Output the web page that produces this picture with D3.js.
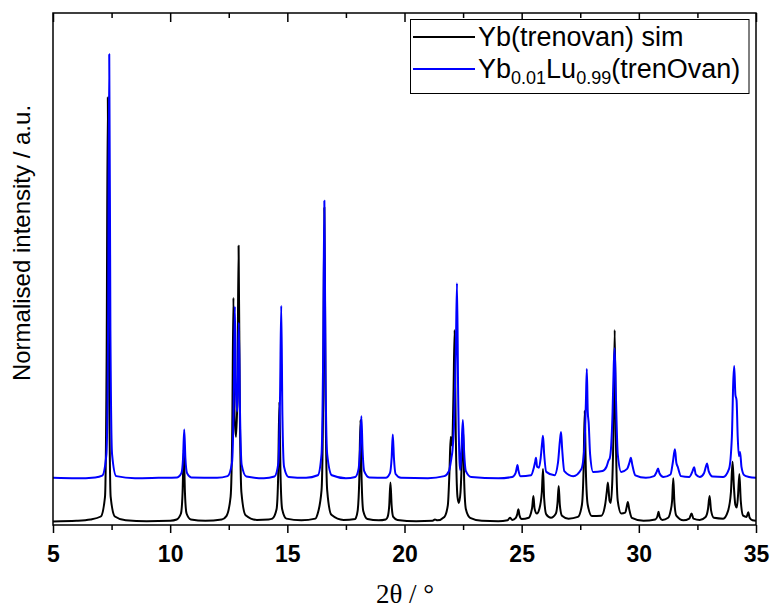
<!DOCTYPE html>
<html><head><meta charset="utf-8">
<script src="https://cdn.jsdelivr.net/npm/d3@7"></script>
<style>body{margin:0;background:#fff}svg{display:block}</style>
</head><body>
<svg id="chart" width="771" height="609"></svg>
<script>
// ---------- data ----------
const seriesNames = ["Yb(trenovan) sim", "Yb0.01Lu0.99(trenOvan)"];
const xTicksMajor = [5, 10, 15, 20, 25, 30, 35];
const xTicksMinor = [7.5, 12.5, 17.5, 22.5, 27.5, 32.5];

const simX = [5.0,6.0,6.6,7.04,7.22,7.29,7.34,7.39,7.46,7.64,8.1,9.0,10.0,
 10.28,10.46,10.53,10.58,10.63,10.70,10.88,11.5,12.2,
 12.40,12.58,12.65,12.70,12.75,12.81,12.87,12.92,12.97,13.04,13.22,13.7,14.2,
 14.36,14.54,14.61,14.66,14.71,14.78,14.96,15.6,16.2,
 16.28,16.46,16.53,16.58,16.63,16.70,16.88,17.4,17.9,
 17.92,18.0,18.07,18.12,18.17,18.24,18.42,18.9,19.2,
 19.28,19.35,19.40,19.45,19.52,19.7,20.5,21.2,21.3,21.4,21.7,21.85,21.92,21.97,22.03,22.09,22.14,22.19,22.26,22.32,22.39,22.45,22.50,22.55,22.62,22.8,23.3,24.0,
 24.4,24.5,24.6,24.75,24.81,24.86,24.91,25.0,25.3,25.40,25.45,25.50,25.55,25.65,25.75,25.86,25.91,25.96,26.05,26.25,
 26.46,26.53,26.58,26.63,26.72,27.0,27.4,27.57,27.64,27.69,27.74,27.82,28.0,28.4,
 28.56,28.63,28.68,28.75,28.80,28.87,28.92,28.97,29.02,29.1,29.25,29.42,29.48,29.53,29.59,29.7,30.2,
 30.7,30.79,30.84,30.89,31.0,31.25,31.35,31.42,31.47,31.52,31.6,31.9,32.15,32.25,32.33,32.6,
 32.85,32.95,33.02,33.08,33.2,33.6,33.8,33.93,34.0,34.06,34.12,34.18,34.23,34.29,34.35,34.45,34.6,34.67,34.73,34.85,35.0];
const simY = [0.0015,0.003,0.006,0.013,0.06,0.4,1.0,0.4,0.06,0.013,0.004,0.002,0.003,
 0.006,0.02,0.07,0.17,0.07,0.02,0.006,0.003,0.006,
 0.014,0.06,0.22,0.528,0.25,0.20,0.30,0.65,0.28,0.07,0.016,0.005,0.006,
 0.008,0.03,0.11,0.283,0.11,0.03,0.008,0.004,0.008,
 0.017,0.075,0.30,0.74,0.30,0.075,0.017,0.005,0.007,
 0.009,0.026,0.10,0.24,0.10,0.026,0.007,0.004,0.006,
 0.012,0.04,0.093,0.04,0.012,0.005,0.002,0.003,0.006,0.004,0.012,0.04,0.12,0.20,0.18,0.30,0.452,0.20,0.06,0.045,0.07,0.15,0.221,0.09,0.03,0.01,0.003,0.002,
 0.004,0.01,0.005,0.01,0.018,0.03,0.015,0.007,0.01,0.022,0.035,0.061,0.032,0.02,0.03,0.07,0.125,0.055,0.018,0.01,
 0.02,0.045,0.085,0.04,0.015,0.008,0.012,0.04,0.12,0.262,0.12,0.04,0.014,0.015,
 0.04,0.07,0.093,0.05,0.045,0.10,0.22,0.452,0.20,0.05,0.02,0.022,0.035,0.047,0.03,0.01,0.003,
 0.006,0.013,0.024,0.012,0.005,0.01,0.025,0.05,0.103,0.045,0.015,0.004,0.008,0.02,0.008,0.005,
 0.012,0.03,0.061,0.028,0.01,0.008,0.025,0.07,0.142,0.08,0.04,0.034,0.06,0.113,0.05,0.015,0.012,0.023,0.01,0.004,0.003];

const expX = [5.0,6.0,6.8,7.1,7.28,7.35,7.40,7.45,7.52,7.70,8.5,9.5,
 10.3,10.48,10.55,10.60,10.65,10.72,10.9,12.0,
 12.45,12.64,12.71,12.76,12.81,12.86,12.89,12.93,12.98,13.05,13.25,14.0,
 14.45,14.62,14.69,14.74,14.79,14.86,15.05,15.8,
 16.3,16.46,16.53,16.58,16.63,16.70,16.9,17.5,
 17.9,18.04,18.11,18.16,18.21,18.28,18.5,19.2,
 19.38,19.45,19.50,19.55,19.62,19.85,21.0,
 21.7,21.9,22.0,22.05,22.12,22.19,22.24,22.29,22.35,22.38,22.43,22.49,22.54,22.62,22.85,24.0,
 24.6,24.74,24.78,24.82,24.86,24.95,25.4,25.52,25.57,25.61,25.66,25.74,25.81,25.87,25.91,25.96,26.05,
 26.4,26.55,26.63,26.68,26.73,26.82,27.2,27.55,27.68,27.74,27.78,27.82,27.86,27.92,28.05,
 28.45,28.62,28.71,28.76,28.82,28.88,28.93,28.97,29.02,29.1,29.25,29.5,29.6,29.66,29.72,29.85,30.3,
 30.65,30.76,30.82,30.88,31.05,31.35,31.45,31.54,31.60,31.66,31.8,32.15,32.28,32.36,32.43,32.6,
 32.78,32.86,32.91,32.98,33.15,33.6,33.85,33.97,34.03,34.07,34.12,34.17,34.22,34.27,34.32,34.38,34.5,34.7,35.0];
const expY = [0.104,0.103,0.105,0.109,0.16,0.45,1.101,0.45,0.16,0.108,0.103,0.104,
 0.105,0.115,0.15,0.218,0.15,0.115,0.105,0.104,
 0.108,0.14,0.28,0.507,0.30,0.26,0.33,0.469,0.26,0.135,0.107,0.103,
 0.107,0.14,0.30,0.509,0.25,0.13,0.106,0.104,
 0.11,0.16,0.40,0.756,0.35,0.16,0.11,0.103,
 0.106,0.125,0.18,0.249,0.17,0.12,0.105,0.104,
 0.115,0.15,0.206,0.15,0.113,0.104,0.103,
 0.108,0.12,0.15,0.17,0.24,0.40,0.562,0.30,0.14,0.122,0.17,0.24,0.17,0.12,0.106,0.103,
 0.106,0.115,0.125,0.134,0.122,0.108,0.11,0.128,0.14,0.151,0.13,0.128,0.15,0.185,0.203,0.16,0.118,
 0.11,0.14,0.19,0.212,0.17,0.12,0.108,0.125,0.18,0.28,0.36,0.26,0.233,0.16,0.118,
 0.12,0.13,0.145,0.15,0.18,0.26,0.37,0.409,0.30,0.16,0.118,0.125,0.14,0.151,0.135,0.11,0.104,
 0.108,0.118,0.126,0.115,0.106,0.112,0.14,0.171,0.14,0.13,0.108,0.106,0.118,0.129,0.112,0.106,
 0.115,0.13,0.138,0.12,0.107,0.106,0.125,0.20,0.33,0.367,0.30,0.287,0.20,0.155,0.165,0.13,0.11,0.106,0.104];

// ---------- layout ----------
const svg = d3.select("#chart");
const L = 53, T = 13, R = 756, B = 525;
const x = d3.scaleLinear().domain([5, 35]).range([L, R]);
const y = d3.scaleLinear().domain([-0.007, 1.198]).range([B, T]);

const line = d3.line().x(d => x(d[0])).y(d => y(d[1])).curve(d3.curveMonotoneX);
const sim = simX.map((v, i) => [v, simY[i]]);
const exp = expX.map((v, i) => [v, expY[i]]);

svg.append("clipPath").attr("id", "clip").append("rect")
  .attr("x", L).attr("y", T).attr("width", R - L).attr("height", B - T);
const g = svg.append("g").attr("clip-path", "url(#clip)");
g.append("path").datum(sim).attr("d", line).attr("fill", "none")
  .attr("stroke", "#000").attr("stroke-width", 2).attr("stroke-linejoin", "round");
g.append("path").datum(exp).attr("d", line).attr("fill", "none")
  .attr("stroke", "#0000ff").attr("stroke-width", 2).attr("stroke-linejoin", "round");

// axes
const bottomMajor = d3.axisBottom(x).tickValues(xTicksMajor).tickSize(8).tickFormat(d3.format("d")).tickPadding(13);
const bottomMinor = d3.axisBottom(x).tickValues(xTicksMinor).tickSize(5).tickFormat("");
const topMajor = d3.axisTop(x).tickValues(xTicksMajor).tickSize(-9).tickFormat("");
const topMinor = d3.axisTop(x).tickValues(xTicksMinor).tickSize(-5).tickFormat("");

function styleAxis(sel) {
  sel.select(".domain").remove();
  sel.selectAll(".tick line").attr("stroke", "#000").attr("stroke-width", 1.5);
}
svg.append("g").attr("transform", `translate(0,${B})`).call(bottomMajor).call(styleAxis)
  .selectAll("text").attr("font-family", "Liberation Sans, Arial, sans-serif")
  .attr("font-weight", "bold").attr("font-size", 23).attr("fill", "#000");
svg.append("g").attr("transform", `translate(0,${B})`).call(bottomMinor).call(styleAxis);
svg.append("g").attr("transform", `translate(0,${T})`).call(topMajor).call(styleAxis);
svg.append("g").attr("transform", `translate(0,${T})`).call(topMinor).call(styleAxis);

svg.append("rect").attr("x", L).attr("y", T).attr("width", R - L).attr("height", B - T)
  .attr("fill", "none").attr("stroke", "#000").attr("stroke-width", 1.5);

// axis titles
svg.append("text").attr("x", 405).attr("y", 603).attr("text-anchor", "middle")
  .attr("font-family", "Liberation Serif, Times New Roman, serif").attr("font-size", 27).attr("fill", "#000")
  .text("2θ / °");
svg.append("text").attr("transform", "translate(30,243) rotate(-90)").attr("text-anchor", "middle")
  .attr("font-family", "Liberation Sans, Arial, sans-serif").attr("font-size", 24).attr("fill", "#000")
  .text("Normalised intensity / a.u.");

// legend
const lg = svg.append("g");
lg.append("rect").attr("x", 410.5).attr("y", 19.5).attr("width", 338.5).attr("height", 74)
  .attr("fill", "#fff").attr("stroke", "#000").attr("stroke-width", 1);
const rows = [{c: "#000", y: 37}, {c: "#0000ff", y: 69}];
rows.forEach(r => lg.append("line").attr("x1", 413).attr("x2", 475).attr("y1", r.y).attr("y2", r.y)
  .attr("stroke", r.c).attr("stroke-width", 2));
const ff = "Liberation Sans, Arial, sans-serif";
lg.append("text").attr("x", 478).attr("y", 46).attr("font-family", ff).attr("font-size", 27).attr("fill", "#000")
  .text(seriesNames[0]);
const t2 = lg.append("text").attr("x", 478).attr("y", 78).attr("font-family", ff).attr("font-size", 27).attr("fill", "#000");
t2.append("tspan").text("Yb");
t2.append("tspan").attr("font-size", 18).attr("dy", 6).text("0.01");
t2.append("tspan").attr("dy", -6).text("Lu");
t2.append("tspan").attr("font-size", 18).attr("dy", 6).text("0.99");
t2.append("tspan").attr("dy", -6).text("(trenOvan)");
</script>
</body></html>
